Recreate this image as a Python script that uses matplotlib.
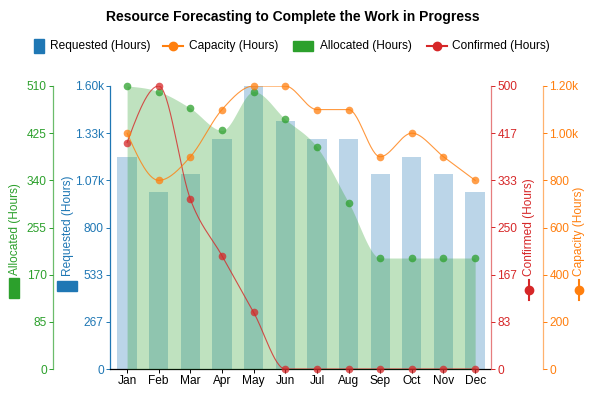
import numpy as np
import matplotlib
matplotlib.use('Agg')
import matplotlib.pyplot as plt
from matplotlib.patches import Rectangle
from matplotlib.lines import Line2D

plt.rcParams['font.family'] = ['Liberation Sans', 'DejaVu Sans']
plt.rcParams['font.size'] = 8.6

months = ['Jan', 'Feb', 'Mar', 'Apr', 'May', 'Jun', 'Jul', 'Aug', 'Sep', 'Oct', 'Nov', 'Dec']
requested = [1200, 1000, 1100, 1300, 1600, 1400, 1300, 1300, 1100, 1200, 1100, 1000]
capacity = [1000, 800, 900, 1100, 1200, 1200, 1100, 1100, 900, 1000, 900, 800]
allocated = [510, 500, 470, 430, 500, 450, 400, 300, 200, 200, 200, 200]
confirmed = [400, 500, 300, 200, 100, 0, 0, 0, 0, 0, 0, 0]

req_ticks = ['0', '267', '533', '800', '1.07k', '1.33k', '1.60k']
cap_ticks = ['0', '200', '400', '600', '800', '1.00k', '1.20k']
all_ticks = ['0', '85', '170', '255', '340', '425', '510']
con_ticks = ['0', '83', '167', '250', '333', '417', '500']

BLUE, ORANGE, GREEN, RED = '#1f77b4', '#ff7f0e', '#2ca02c', '#d62728'
W, H = 596, 398
PT = 0.72  # points per pixel at 100 dpi


def monotone(y, steps=30):
    # monotone cubic curve (like d3 curveMonotoneX) for drawing smooth lines
    y = np.asarray(y, float)
    n = len(y)
    d = np.diff(y)
    m = np.zeros(n)
    for i in range(1, n - 1):
        s0, s1 = d[i - 1], d[i]
        p = (s0 + s1) / 2
        sg0 = -1 if s0 < 0 else 1
        sg1 = -1 if s1 < 0 else 1
        m[i] = (sg0 + sg1) * min(abs(s0), abs(s1), 0.5 * abs(p))
    m[0] = (3 * d[0] - m[1]) / 2
    m[-1] = (3 * d[-1] - m[-2]) / 2
    xs, ys = [], []
    t = np.linspace(0, 1, steps, endpoint=False)
    for i in range(n - 1):
        h00 = 2 * t**3 - 3 * t**2 + 1
        h10 = t**3 - 2 * t**2 + t
        h01 = -2 * t**3 + 3 * t**2
        h11 = t**3 - t**2
        xs.extend(i + t)
        ys.extend(h00 * y[i] + h10 * m[i] + h01 * y[i + 1] + h11 * m[i + 1])
    xs.append(n - 1)
    ys.append(y[-1])
    return np.array(xs), np.array(ys)


def style_axis(a, side, color, spine_alpha=0.7):
    for s in ['top', 'bottom', 'left', 'right']:
        a.spines[s].set_visible(False)
    a.spines[side].set_visible(True)
    a.spines[side].set_color(color)
    a.spines[side].set_alpha(spine_alpha)
    a.spines[side].set_linewidth(0.9)
    a.tick_params(axis='y', colors=color, labelcolor=color, length=3, width=0.7, labelsize=8.6, pad=1.5)


fig = plt.figure(figsize=(W / 100, H / 100), dpi=100)
ax = fig.add_axes([110 / W, 29 / H, 380 / W, 283 / H])
x = np.arange(len(months))

# requested bars
ax.bar(x, requested, width=0.61, color=BLUE, alpha=0.3, zorder=1)
ax.set_ylim(0, 1600)
ax.set_yticks(np.linspace(0, 1600, 7))
ax.set_yticklabels(req_ticks)
style_axis(ax, 'left', BLUE, 1.0)
ax.spines['bottom'].set_visible(True)
ax.spines['bottom'].set_color('black')
ax.spines['bottom'].set_linewidth(0.9)
ax.set_xticks(x)
ax.set_xticklabels(months)
ax.tick_params(axis='x', length=3, width=0.7, labelsize=8.6, pad=1.5)

# allocated area
ax2 = ax.twinx()
xs, ys = monotone(allocated)
ax2.fill_between(xs, 0, ys, color=GREEN, alpha=0.3, linewidth=0)
ax2.plot(x, allocated, 'o', color=GREEN, alpha=0.75, markersize=5.5, markeredgewidth=0, clip_on=False)
ax2.set_ylim(0, 510)
ax2.set_yticks(np.linspace(0, 510, 7))
ax2.set_yticklabels(all_ticks)
ax2.yaxis.set_ticks_position('left')
style_axis(ax2, 'left', GREEN)
ax2.spines['left'].set_position(('outward', 57 * PT))

# confirmed line
ax3 = ax.twinx()
xs, ys = monotone(confirmed)
ax3.plot(xs, ys, color=RED, lw=0.8, alpha=0.8)
ax3.plot(x, confirmed, 'o', color=RED, alpha=0.75, markersize=5.5, markeredgewidth=0, clip_on=False)
ax3.set_ylim(0, 500)
ax3.set_yticks(np.linspace(0, 500, 7))
ax3.set_yticklabels(con_ticks)
style_axis(ax3, 'right', RED, 0.6)
ax3.spines['right'].set_position(('outward', 1 * PT))

# capacity line
ax4 = ax.twinx()
xs, ys = monotone(capacity)
ax4.plot(xs, ys, color=ORANGE, lw=0.8, alpha=0.8)
ax4.plot(x, capacity, 'o', color=ORANGE, alpha=0.75, markersize=5.5, markeredgewidth=0, clip_on=False)
ax4.set_ylim(0, 1200)
ax4.set_yticks(np.linspace(0, 1200, 7))
ax4.set_yticklabels(cap_ticks)
style_axis(ax4, 'right', ORANGE, 0.6)
ax4.spines['right'].set_position(('outward', 53 * PT))

ax.set_xlim(-0.54, 11.47)

# title
fig.text(293 / W, 1 - 17 / H, 'Resource Forecasting to Complete the Work in Progress',
         ha='center', va='center', fontsize=10, fontweight='bold')


def fx(px):
    return px / W


def fy(py):
    return 1 - py / H


# legend row
ly = 46
fig.patches.append(Rectangle((fx(34), fy(ly + 7)), 10 / W, 14 / H, color=BLUE, transform=fig.transFigure))
fig.text(fx(50), fy(ly), 'Requested (Hours)', va='center')
fig.lines.append(Line2D([fx(163), fx(183)], [fy(ly), fy(ly)], color=ORANGE, lw=1.5, transform=fig.transFigure))
fig.lines.append(Line2D([fx(173)], [fy(ly)], marker='o', color=ORANGE, markersize=6, transform=fig.transFigure))
fig.text(fx(189), fy(ly), 'Capacity (Hours)', va='center')
fig.patches.append(Rectangle((fx(293), fy(ly + 5)), 20 / W, 10 / H, color=GREEN, transform=fig.transFigure))
fig.text(fx(320), fy(ly), 'Allocated (Hours)', va='center')
fig.lines.append(Line2D([fx(427), fx(447)], [fy(ly), fy(ly)], color=RED, lw=1.5, transform=fig.transFigure))
fig.lines.append(Line2D([fx(437)], [fy(ly)], marker='o', color=RED, markersize=6, transform=fig.transFigure))
fig.text(fx(452), fy(ly), 'Confirmed (Hours)', va='center')

# axis titles with icons
fig.text(fx(15), fy(275), 'Allocated (Hours)', rotation=90, ha='center', va='bottom', color=GREEN)
fig.patches.append(Rectangle((fx(9), fy(298)), 10 / W, 20 / H, color=GREEN, transform=fig.transFigure))
fig.text(fx(68), fy(276), 'Requested (Hours)', rotation=90, ha='center', va='bottom', color=BLUE)
fig.patches.append(Rectangle((fx(57), fy(291)), 20 / W, 10 / H, color=BLUE, transform=fig.transFigure))
fig.text(fx(529), fy(276), 'Confirmed (Hours)', rotation=90, ha='center', va='bottom', color=RED)
fig.lines.append(Line2D([fx(529), fx(529)], [fy(280), fy(300)], color=RED, lw=1.5, transform=fig.transFigure))
fig.lines.append(Line2D([fx(529)], [fy(290)], marker='o', color=RED, markersize=6, transform=fig.transFigure))
fig.text(fx(579), fy(276), 'Capacity (Hours)', rotation=90, ha='center', va='bottom', color=ORANGE)
fig.lines.append(Line2D([fx(579), fx(579)], [fy(280), fy(300)], color=ORANGE, lw=1.5, transform=fig.transFigure))
fig.lines.append(Line2D([fx(579)], [fy(290)], marker='o', color=ORANGE, markersize=6, transform=fig.transFigure))

fig.savefig('out.png', dpi=100)
